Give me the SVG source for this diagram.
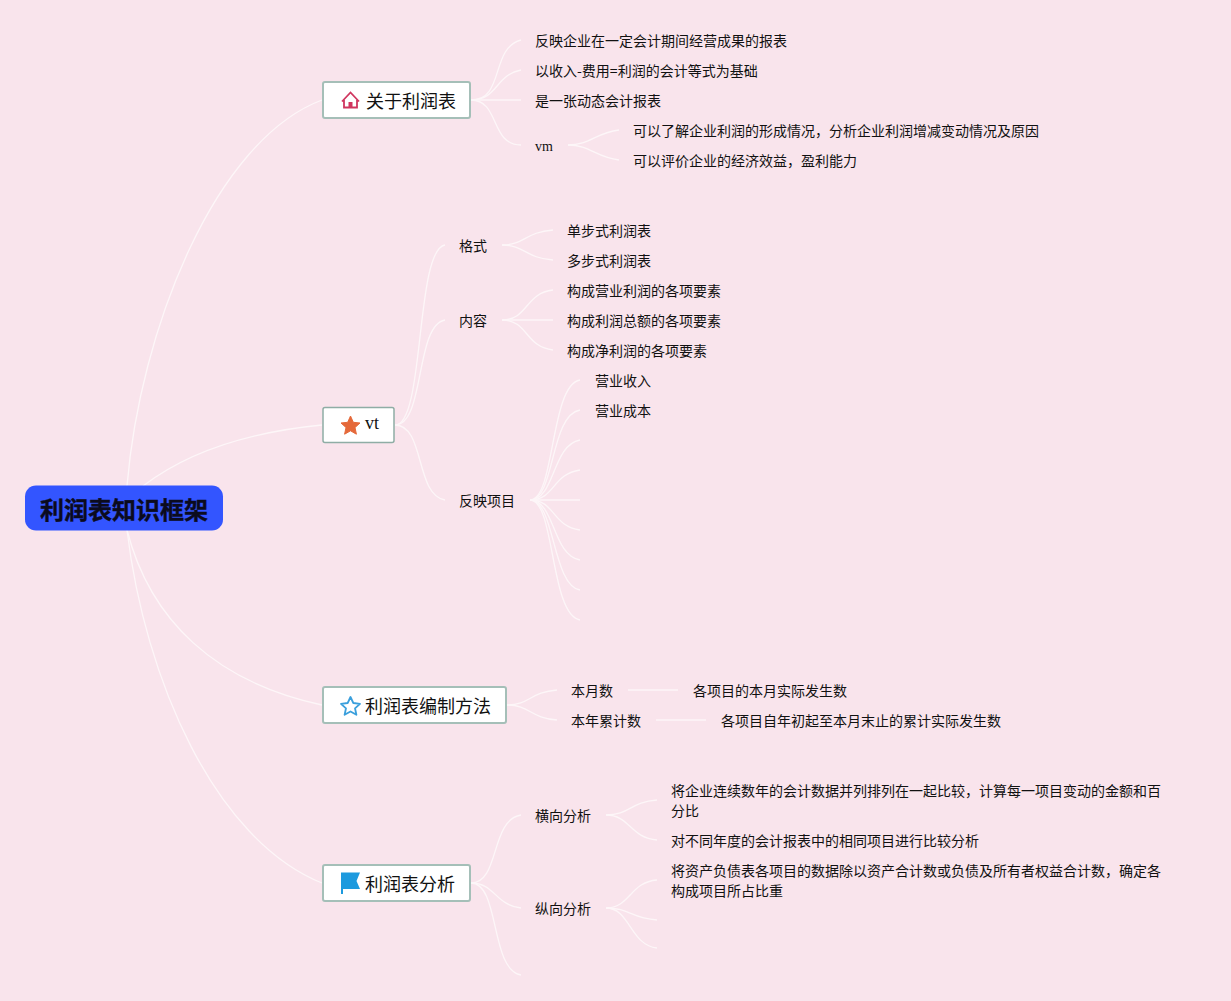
<svg xmlns="http://www.w3.org/2000/svg" width="1231" height="1001" viewBox="0 0 1231 1001">
<style>
.bg{fill:#f9e4ec}
.c{fill:none;stroke:#fdf6f8;stroke-width:1.3}
.box{fill:#fff;stroke:#a5bfb8;stroke-width:2}
text{font-family:"Noto Sans CJK SC","Liberation Sans",sans-serif;fill:#111;font-size:14px}
.m{font-size:18px}
.s{font-family:"Liberation Serif","Noto Sans CJK SC",serif}
</style>
<rect class="bg" width="1231" height="1001"/>
<g id="connectors">
<path class="c" d="M127 486C140 330 215 140 322 100"/>
<path class="c" d="M143 486C190 450 250 432 322 425"/>
<path class="c" d="M127 530C150 620 215 682 322 705"/>
<path class="c" d="M127 530C145 680 215 840 322 883"/>
<path class="c" d="M471 100C505 100 490 48 521 40"/>
<path class="c" d="M471 100C498 100 495 75 521 70"/>
<path class="c" d="M471 100H521"/>
<path class="c" d="M471 100C500 100 490 145 521 145"/>
<path class="c" d="M568 145C590 145 595 133 619 130"/>
<path class="c" d="M568 145C590 145 595 157 619 160"/>
<path class="c" d="M395 425C425 425 415 250 445 245"/>
<path class="c" d="M395 425C425 425 415 325 445 320"/>
<path class="c" d="M395 425C425 425 415 495 445 500"/>
<path class="c" d="M502 245C525 245 525 232 553 230"/>
<path class="c" d="M502 245C525 245 525 258 553 260"/>
<path class="c" d="M502 320C528 320 525 293 553 290"/>
<path class="c" d="M502 320H553"/>
<path class="c" d="M502 320C528 320 525 347 553 350"/>
<path class="c" d="M530 500C555 500 550 385 580 380"/>
<path class="c" d="M530 500C555 500 550 415 580 410"/>
<path class="c" d="M530 500C555 500 552 445 580 440"/>
<path class="c" d="M530 500C555 500 552 474 580 470"/>
<path class="c" d="M530 500H580"/>
<path class="c" d="M530 500C555 500 552 526 580 530"/>
<path class="c" d="M530 500C555 500 552 555 580 560"/>
<path class="c" d="M530 500C555 500 552 585 580 590"/>
<path class="c" d="M530 500C555 500 550 615 580 620"/>
<path class="c" d="M507 705C530 705 530 692 557 690"/>
<path class="c" d="M507 705C530 705 530 718 557 720"/>
<path class="c" d="M628 690H678"/>
<path class="c" d="M656 720H706"/>
<path class="c" d="M471 883C500 883 490 820 521 815"/>
<path class="c" d="M471 883C495 883 495 905 521 908"/>
<path class="c" d="M471 883C500 883 490 970 521 975"/>
<path class="c" d="M606 815C630 815 630 802 657 800"/>
<path class="c" d="M606 815C630 815 630 838 657 840"/>
<path class="c" d="M606 908C630 908 630 882 657 880"/>
<path class="c" d="M606 908C630 908 630 918 657 920"/>
<path class="c" d="M606 908C630 908 630 945 657 948"/>
</g>
<g id="root"><rect x="25" y="485.500" width="198" height="45" rx="11" fill="#3355ff"/><text x="40" y="519" style="font-size:24px;font-weight:700;fill:#0b0b1e;stroke:#0b0b1e;stroke-width:.4">利润表知识框架</text></g>
<g id="n-about"><rect class="box" x="323" y="82" width="147" height="36" rx="2"/>
<path d="M342 101.500L350.500 92.500L359 101.500M344 100V107.500H357V100" fill="none" stroke="#d0365f" stroke-width="1.800"/><rect x="348.500" y="102" width="4" height="5.500" fill="#d0365f"/>
<text class="m" x="366" y="108">关于利润表</text></g>
<g id="n-vt"><rect class="box" x="323" y="407.500" width="71" height="35" rx="2" style="stroke-width:1.500;stroke:#8fada5"/>
<polygon points="350.500,416 353.300,422.300 360,423 355,427.500 356.400,434.200 350.500,430.800 344.600,434.200 346,427.500 341,423 347.700,422.300" fill="#e5693a" stroke="#e5693a" stroke-linejoin="round"/>
<text class="m s" x="365" y="429">vt</text></g>
<g id="n-method"><rect class="box" x="323" y="687" width="183" height="36" rx="2"/>
<polygon points="350.500,697 353.300,703 360,703.800 355,708.300 356.400,714.800 350.500,711.500 344.600,714.800 346,708.300 341,703.800 347.700,703" fill="none" stroke="#3a9fdc" stroke-width="1.800" stroke-linejoin="round"/>
<text class="m" x="365" y="713">利润表编制方法</text></g>
<g id="n-analysis"><rect class="box" x="323" y="865" width="147" height="36" rx="2"/>
<path d="M341 872.500H360L356.500 881L360 889H343V894H341Z" fill="#1d9ade"/>
<text class="m" x="365" y="891">利润表分析</text></g>
<g id="leaves">
<text x="535" y="46">反映企业在一定会计期间经营成果的报表</text>
<text x="535" y="76">以收入-费用=利润的会计等式为基础</text>
<text x="535" y="106">是一张动态会计报表</text>
<text class="s" x="535" y="151">vm</text>
<text x="633" y="136">可以了解企业利润的形成情况，分析企业利润增减变动情况及原因</text>
<text x="633" y="166">可以评价企业的经济效益，盈利能力</text>
<text x="459" y="251">格式</text>
<text x="459" y="326">内容</text>
<text x="459" y="506">反映项目</text>
<text x="567" y="236">单步式利润表</text>
<text x="567" y="266">多步式利润表</text>
<text x="567" y="296">构成营业利润的各项要素</text>
<text x="567" y="326">构成利润总额的各项要素</text>
<text x="567" y="356">构成净利润的各项要素</text>
<text x="595" y="386">营业收入</text>
<text x="595" y="416">营业成本</text>
<text x="571" y="696">本月数</text>
<text x="571" y="726">本年累计数</text>
<text x="693" y="696">各项目的本月实际发生数</text>
<text x="721" y="726">各项目自年初起至本月末止的累计实际发生数</text>
<text x="535" y="821">横向分析</text>
<text x="535" y="914">纵向分析</text>
<text x="671" y="796">将企业连续数年的会计数据并列排列在一起比较，计算每一项目变动的金额和百</text>
<text x="671" y="816">分比</text>
<text x="671" y="846">对不同年度的会计报表中的相同项目进行比较分析</text>
<text x="671" y="876">将资产负债表各项目的数据除以资产合计数或负债及所有者权益合计数，确定各</text>
<text x="671" y="896">构成项目所占比重</text>
</g>
</svg>
